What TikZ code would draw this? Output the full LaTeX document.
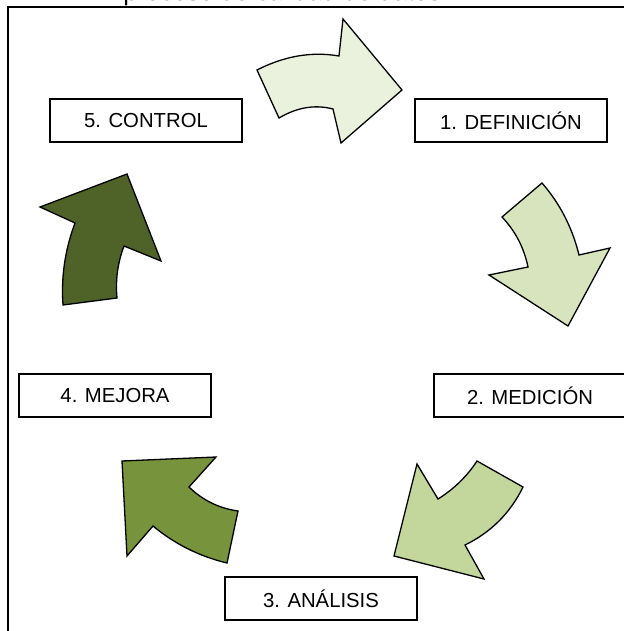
\documentclass[tikz,border=0pt]{standalone}
\usepackage{fontspec}
\setmainfont{Liberation Sans}
\usetikzlibrary{positioning}
\definecolor{verdeA}{HTML}{EAF1DD}
\definecolor{verdeB}{HTML}{D7E4BD}
\definecolor{verdeC}{HTML}{C3D69B}
\definecolor{verdeD}{HTML}{77933C}
\definecolor{verdeE}{HTML}{4F6228}
\tikzset{
	paso/.style={draw=black, line width=1pt, fill=white, minimum width=96pt,
		minimum height=21.5pt, inner sep=0pt, font=\fontsize{10.15}{12}\selectfont},
	flecha/.style={draw=black, line width=0.65pt, line join=miter},
	marco/.style={draw=black, line width=1pt},
}
\begin{document}
\begin{tikzpicture}[x=0.5pt, y=-0.5pt]
	\useasboundingbox (0,0) rectangle (624,631);
	\node[anchor=base west, inner sep=0pt, font=\fontsize{12.7}{15}\selectfont] (titulo) at (123,1) {proceso de calidad de datos};
	\draw[marco] (7.5,660) -- (7.5,7.5) -- (660,7.5);
	% flechas del ciclo
	\draw[flecha, fill=verdeA] (257,70) .. controls (284.3,56) and (311.7,51.3) .. (339,56) -- (343,19) -- (402,90)
		-- (341,143) -- (333,109) .. controls (315,104.3) and (297,107.3) .. (279,118) -- cycle;
	\draw[flecha, fill=verdeB] (542,183) .. controls (560,203.7) and (572.3,227.7) .. (579,255) -- (610,248) -- (568,326)
		-- (489,275) -- (528,267) .. controls (524,247.7) and (515.3,231) .. (502,217) -- cycle;
	\draw[flecha, fill=verdeC] (523,487) .. controls (510.3,513) and (491,532.3) .. (465,545) -- (484,579) -- (394,556)
		-- (417,464) -- (438,499) .. controls (454,489) and (467,476.3) .. (477,461) -- cycle;
	\draw[flecha, fill=verdeD] (238,511) .. controls (219,508.3) and (202.7,500.3) .. (189,487) -- (216,457) -- (122,461)
		-- (127,556) -- (153,526) .. controls (174.7,544) and (199.3,556.3) .. (227,563) -- cycle;
	\draw[flecha, fill=verdeE] (117,298) .. controls (115.3,280) and (117.7,262.7) .. (124,246) -- (161,261) -- (127,174)
		-- (40,207) -- (75,223) .. controls (65,249.7) and (61,277) .. (63,305) -- cycle;
	% pasos
	\node[paso] (definicion) at (511,120.5) {1. DEFINICIÓN};
	\node[paso] (medicion) at (530,395.5) {2. MEDICIÓN};
	\node[paso] (analisis) at (321,598.5) {3. ANÁLISIS};
	\node[paso] (mejora) at (115,395.5) {4. MEJORA};
	\node[paso] (control) at (146,120.5) {5. CONTROL};
\end{tikzpicture}
\end{document}
